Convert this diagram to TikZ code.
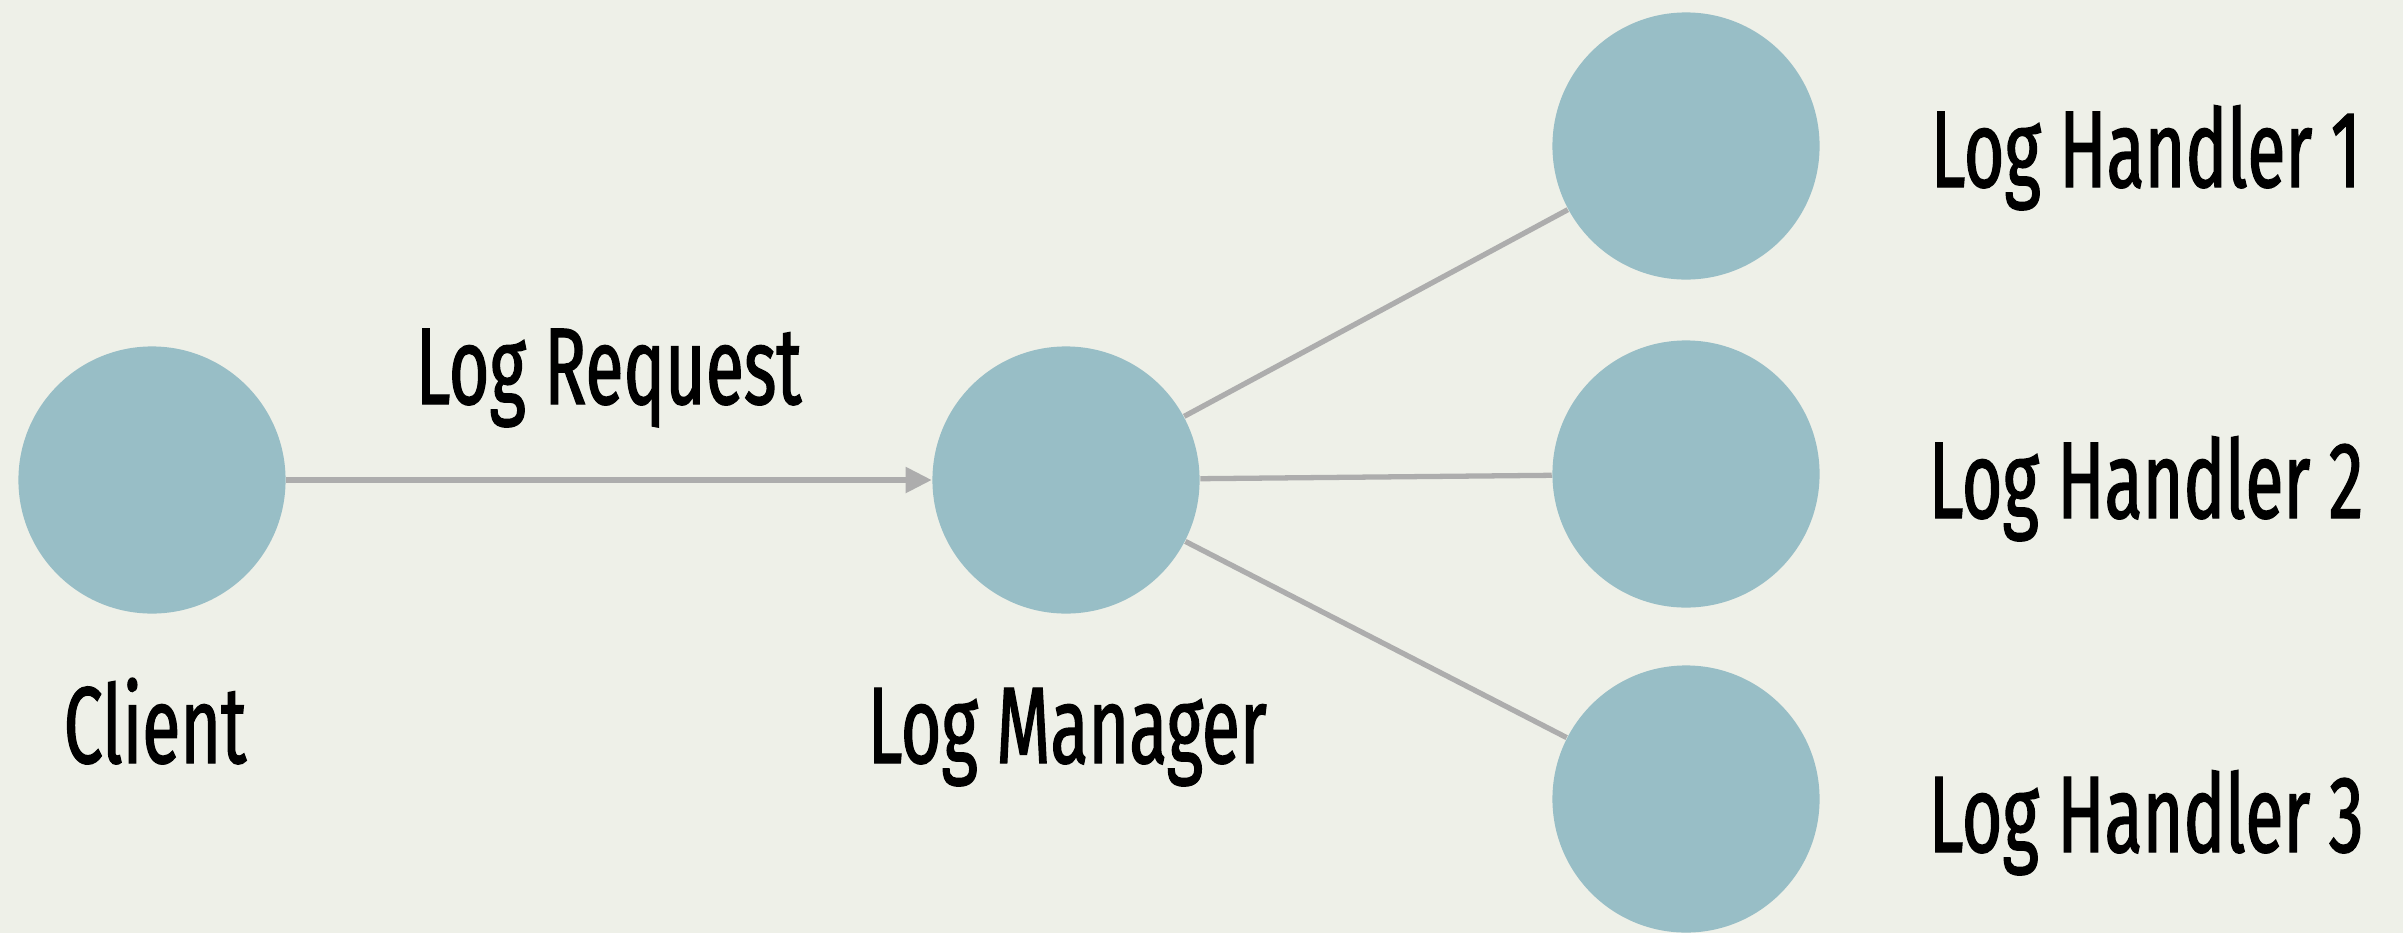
\documentclass[tikz,border=0pt]{standalone}
\usepackage{fontspec}
\setmainfont[FakeStretch=0.64,FakeBold=1.2]{Fira Sans}
\usetikzlibrary{arrows.meta}
\definecolor{bgcol}{RGB}{238,240,232}
\definecolor{nodecol}{RGB}{152,190,198}
\definecolor{linkcol}{RGB}{173,173,173}
\begin{document}
\begin{tikzpicture}[x=0.01cm,y=-0.01cm,
  vertex/.style={circle,fill=nodecol,draw=none,minimum size=2.67cm,inner sep=0pt},
  caption/.style={anchor=base west,inner sep=0pt,font=\fontsize{31}{31}\selectfont,text=black},
  link/.style={draw=linkcol,line width=1.5pt}]
  \fill[bgcol] (0,0) rectangle (2403,933);
  \useasboundingbox (0,0) rectangle (2403,933);

  % components
  \node[vertex] (client) at (152,480) {};
  \node[vertex] (manager) at (1066,480) {};
  \node[vertex] (h1) at (1686,146) {};
  \node[vertex] (h2) at (1686,474) {};
  \node[vertex] (h3) at (1686,799) {};

  % labels
  \node[caption] (lclient) at (63,763) {Client};
  \node[caption] (lmanager) at (867,763) {Log Manager};
  \node[caption] (lreq) at (415,404) {Log Request};
  \node[caption] (lh1) at (1930,187) {Log Handler 1};
  \node[caption] (lh2) at (1928,518) {Log Handler 2};
  \node[caption] (lh3) at (1928,852) {Log Handler 3};

  % connections
  \draw[link,-{Triangle[length=7.4pt,width=7.1pt]}] (client) -- (manager);
  \draw[link] (manager) -- (h1);
  \draw[link] (manager) -- (h2);
  \draw[link] (manager) -- (h3);
\end{tikzpicture}
\end{document}
